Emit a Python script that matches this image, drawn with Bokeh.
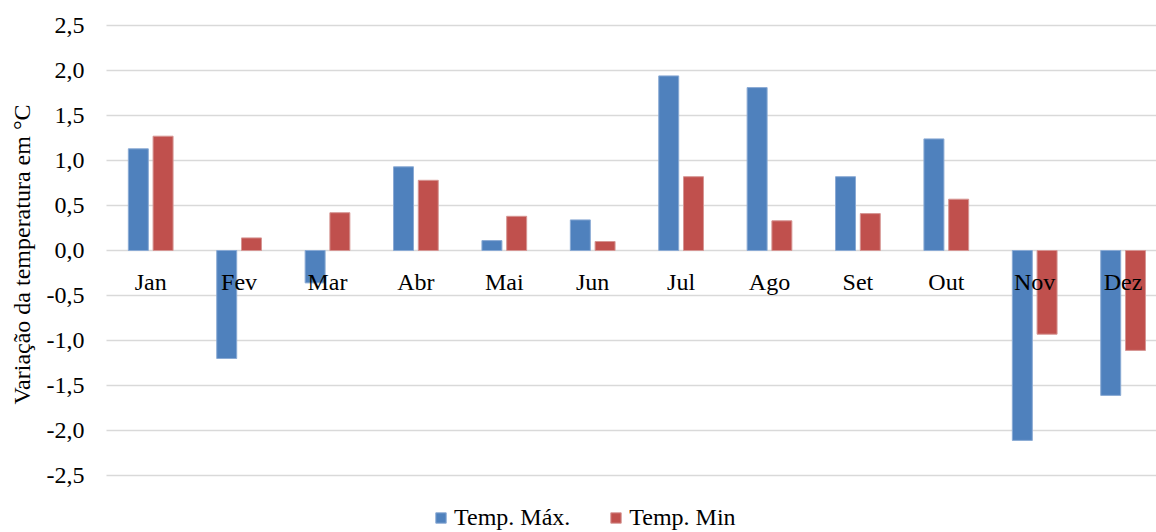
import math
from bokeh.plotting import figure
from bokeh.models import ColumnDataSource, Range1d, Legend, LegendItem
from bokeh.transform import dodge
from bokeh.core.properties import value
from bokeh.embed import file_html
from bokeh.resources import INLINE

months = ["Jan", "Fev", "Mar", "Abr", "Mai", "Jun", "Jul", "Ago", "Set", "Out", "Nov", "Dez"]
temp_max = [1.13, -1.20, -0.36, 0.93, 0.11, 0.34, 1.94, 1.81, 0.82, 1.24, -2.11, -1.61]
temp_min = [1.27, 0.14, 0.42, 0.78, 0.38, 0.10, 0.82, 0.33, 0.41, 0.57, -0.93, -1.11]
y_ticks = [-2.5, -2.0, -1.5, -1.0, -0.5, 0.0, 0.5, 1.0, 1.5, 2.0, 2.5]
y_tick_labels = [f"{t:.1f}".replace(".", ",") for t in y_ticks]
series_names = ["Temp. Máx.", "Temp. Min"]
y_title = "Variação da temperatura em °C"

FONT = value("Liberation Serif")
FS = "24px"
BLUE = "#4F81BD"
RED = "#C0504D"

W, H = 1156, 532
PX_X = 88.4          # pixels per category
PX_Y = 90.0          # pixels per degree
LEFT, TOP = 106, 25  # plot-area origin in pixels
x0 = -0.5 - LEFT / PX_X
x1 = x0 + W / PX_X
y1 = y_ticks[-1] + TOP / PX_Y
y0 = y1 - H / PX_Y

src = ColumnDataSource(dict(x=list(range(len(months))), m=months,
                            tmax=temp_max, tmin=temp_min,
                            zero=[0.0] * len(months)))
tick_src = ColumnDataSource(dict(y=y_ticks, lab=y_tick_labels,
                                 xs=[-0.5] * len(y_ticks), xe=[x1 + 1] * len(y_ticks)))

p = figure(width=W, height=H, output_backend="svg", toolbar_location=None,
           title=None, x_range=Range1d(x0, x1), y_range=Range1d(y0, y1),
           x_axis_location=None, y_axis_location=None)
p.min_border_left = 0
p.min_border_right = 0
p.min_border_top = 0
p.min_border_bottom = 0
p.outline_line_color = None
p.background_fill_color = "white"
p.border_fill_color = "white"
p.xgrid.visible = False
p.ygrid.visible = False

# horizontal gridlines
p.segment(x0="xs", x1="xe", y0="y", y1="y", source=tick_src,
          line_color="#D9D9D9", line_width=1.5)

# y tick labels
p.text(x="xs", y="y", text="lab", source=tick_src, x_offset=-22, y_offset=0,
       text_font=FONT, text_font_size=FS, text_color="black",
       text_align="right", text_baseline="alphabetic")

# y axis title
p.text(x=[x0 + 21 / PX_X], y=[-0.045], text=[y_title], angle=math.pi / 2,
       text_font=FONT, text_font_size=FS, text_color="black",
       text_align="center", text_baseline="alphabetic")

r1 = p.vbar(x=dodge("x", -0.14), top="tmax", bottom=0, width=0.226, source=src,
            fill_color=BLUE, line_color="#8AAAD4", line_width=1)
r2 = p.vbar(x=dodge("x", 0.14), top="tmin", bottom=0, width=0.226, source=src,
            fill_color=RED, line_color="#D69593", line_width=1)

# category labels along the zero line
p.text(x="x", y="zero", text="m", source=src, y_offset=31,
       text_font=FONT, text_font_size=FS, text_color="black",
       text_align="center", text_baseline="alphabetic")

legend = Legend(items=[LegendItem(label=series_names[0], renderers=[r1]),
                       LegendItem(label=series_names[1], renderers=[r2])],
                location=(434, 1), orientation="horizontal")
legend.label_text_font = "Liberation Serif"
legend.label_text_font_size = FS
legend.label_text_color = "black"
legend.glyph_width = 13
legend.glyph_height = 13
legend.label_standoff = 7
legend.spacing = 39
legend.padding = 0
legend.margin = 0
legend.border_line_color = None
legend.background_fill_alpha = 0
p.add_layout(legend, "center")

open("out.html", "w").write(file_html(p, INLINE))
